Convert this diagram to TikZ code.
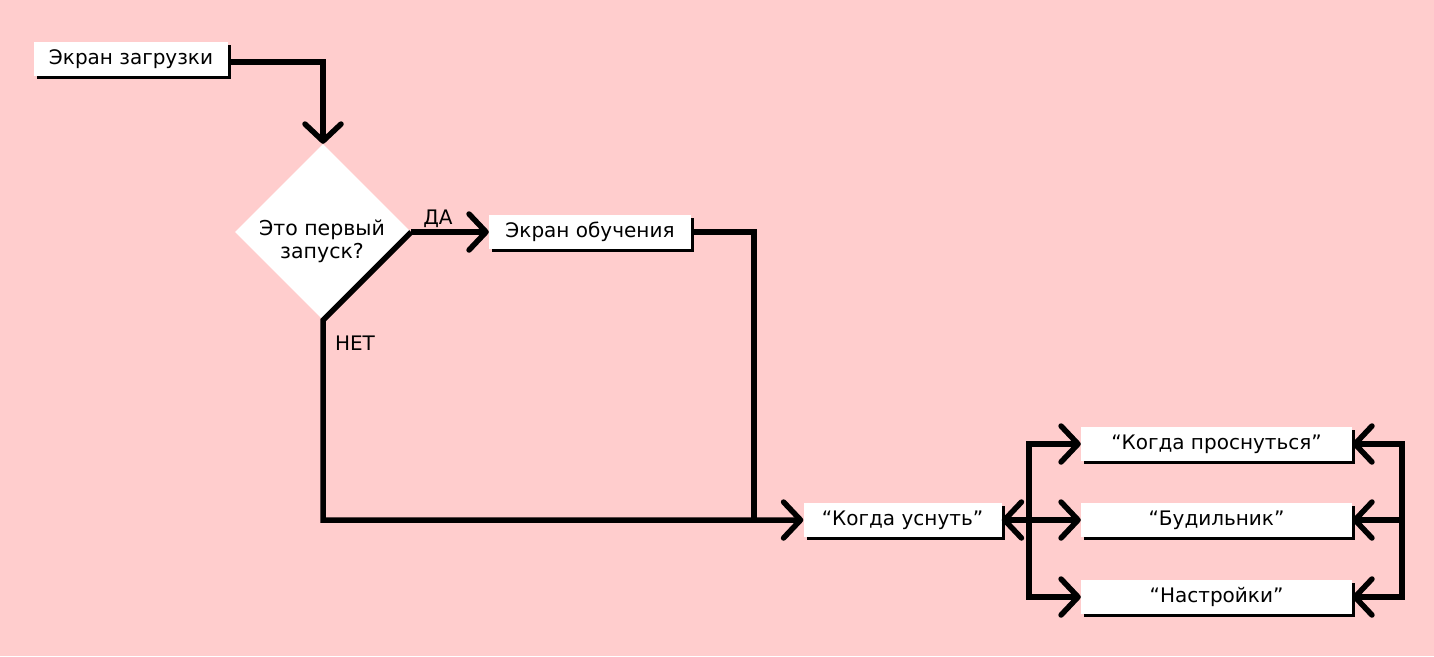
\documentclass[tikz,border=0pt]{standalone}
\usepackage{fontspec}
\setmainfont{DejaVu Sans}
\usetikzlibrary{arrows.meta,shapes.geometric,shadows}
\definecolor{bgpink}{HTML}{FFCDCD}
\tikzset{
  box/.style={fill=white, inner sep=0pt, minimum height=34pt, font=\fontsize{20}{24}\selectfont,
    general shadow={fill=black, shadow xshift=3pt, shadow yshift=-3pt}},
  conn/.style={line width=5.5pt, draw=black},
  bus/.style={conn, line cap=rect},
  arr/.style={conn, -{Straight Barb[length=17pt,width=36pt,line width=5.5pt,round]}},
  lbl/.style={font=\fontsize{20}{24}\selectfont, inner sep=0pt},
}
\begin{document}
\begin{tikzpicture}[x=1pt,y=-1pt]
\fill[bgpink] (0,0) rectangle (1434,656);
\useasboundingbox (0,0) rectangle (1434,656);
% nodes
\node[box, minimum width=194pt] (load) at (131,59) {Экран загрузки};
\node[diamond, fill=white, minimum width=176pt, minimum height=176pt, inner sep=0pt, aspect=1] (q) at (323,232) {};
\node[lbl, align=center, font=\fontsize{20.5}{23}\selectfont] (qt) at (322,241) {Это первый\\запуск?};
\node[box, minimum width=202pt] (tutor) at (590,232) {Экран обучения};
\node[box, minimum width=198pt] (sleep) at (902.5,520) {“Когда уснуть”};
\node[box, minimum width=271pt] (wake) at (1216.5,444) {“Когда проснуться”};
\node[box, minimum width=271pt] (alarm) at (1216.5,520) {“Будильник”};
\node[box, minimum width=271pt] (sett) at (1216.5,597) {“Настройки”};
\node[lbl] (da) at (438,219) {ДА};
\node[lbl] (net) at (355,343) {НЕТ};
% helper coordinates
\coordinate (join) at (754,520);
\coordinate (lbus) at (1029,520);
\coordinate (lbusT) at (1029,444);
\coordinate (lbusB) at (1029,597);
\coordinate (rbusT) at (1402,444);
\coordinate (rbusM) at (1402,520);
\coordinate (rbusB) at (1402,597);
% connectors
\draw[arr] ([yshift=-3pt]load.east) -| (q.north);
\draw[arr] (q.east) -- (tutor.west);
\draw[arr] (q.east) -- (q.south) -- (q.south |- sleep.west) -- (sleep.west);
\draw[conn] (tutor.east) -| (join);
\draw[arr] (lbus) -- (sleep.east);
\draw[bus] (lbusT) -- (lbusB);
\draw[arr, line cap=rect] (lbusT) -- (wake.west);
\draw[arr] (lbus) -- (alarm.west);
\draw[arr, line cap=rect] (lbusB) -- (sett.west);
\draw[bus] (rbusT) -- (rbusB);
\draw[arr, line cap=rect] (rbusT) -- (wake.east);
\draw[arr] (rbusM) -- (alarm.east);
\draw[arr, line cap=rect] (rbusB) -- (sett.east);
\end{tikzpicture}
\end{document}
